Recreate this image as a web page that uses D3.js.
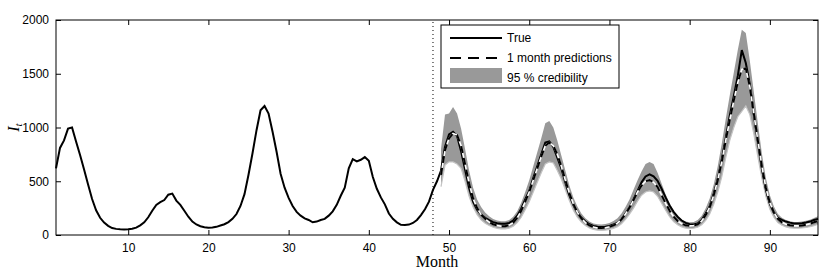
<!DOCTYPE html>
<html>
<head>
<meta charset="utf-8">
<script src="https://cdn.jsdelivr.net/npm/d3@7"></script>
<style>
  body { margin: 0; background: #fff; }
  .tick text { font-family: "Liberation Sans", Arial, sans-serif; font-size: 12px; }
</style>
</head>
<body>
<div class="center"></div>
<script>
// values, half-month steps
const trueVals = [
  620,810,880,990,1000,870,745,610,470,335,
  230,160,115,85,65,57,53,52,54,58,
  68,90,118,165,225,280,305,325,375,385,
  320,280,225,170,125,98,82,72,68,70,
  76,88,100,120,150,195,270,380,560,760,
  975,1160,1200,1130,960,775,570,440,345,270,
  215,180,155,140,118,125,140,150,180,220,
  280,365,440,620,705,685,700,725,690,540,
  430,350,285,200,150,118,95,92,97,112,
  140,185,240,310,420,500,600,820,935,960,
  920,780,610,440,310,235,190,160,138,120,
  110,105,105,112,135,180,245,330,410,530,
  640,750,860,870,820,720,620,490,370,280,
  210,160,125,100,85,76,74,76,85,98,
  112,145,200,255,330,410,490,545,565,545,
  505,430,350,275,215,170,135,112,100,98,
  108,140,200,265,385,520,700,900,1110,1290,
  1480,1720,1600,1400,1120,870,620,420,290,210,
  160,140,125,115,108,108,110,117,125,140,
  150
];
const predVals = [
  560,790,900,945,930,830,660,480,340,250,
  190,150,120,100,88,82,82,92,115,160,
  225,310,400,510,620,730,830,860,830,750,
  640,510,390,290,210,155,115,90,75,66,
  64,68,76,90,110,145,195,255,325,400,
  460,500,510,490,445,370,295,225,170,130,
  105,90,85,88,100,130,185,260,370,510,
  680,880,1070,1250,1420,1540,1550,1380,1130,880,
  640,440,300,210,150,118,100,90,85,85,
  88,95,105,118,130
];
const upperVals = [
  800,1120,1130,1190,1130,990,800,600,440,330,
  260,210,175,150,135,128,128,140,170,220,
  300,400,510,640,770,900,1040,1060,1000,880,
  740,600,460,350,265,200,155,125,108,100,
  98,102,112,130,155,200,260,330,420,510,
  590,660,680,660,580,480,380,295,225,175,
  145,125,118,122,140,180,250,340,470,640,
  850,1080,1300,1510,1720,1910,1880,1620,1330,1040,
  760,530,370,265,195,160,140,128,122,122,
  125,132,142,158,175
];
const lowerVals = [
  450,650,680,680,660,620,500,360,260,190,
  140,110,88,72,62,57,57,64,82,115,
  165,235,310,400,490,580,660,680,670,600,
  520,420,320,230,165,120,88,65,52,45,
  43,46,53,62,78,105,145,195,250,315,
  370,400,410,400,360,295,230,170,125,95,
  76,64,60,63,72,95,135,195,285,400,
  540,720,880,1000,1100,1150,1200,1120,940,730,
  530,360,240,165,115,90,75,67,63,63,
  65,70,77,87,100
];
const trueMonths = d3.range(1, 96.01, 0.5);
const predMonths = d3.range(49, 96.01, 0.5);
const xTicks = [10, 20, 30, 40, 50, 60, 70, 80, 90];
const yTicks = [0, 500, 1000, 1500, 2000];
const splitMonth = 48;
const legendLabels = ["True", "1 month predictions", "95 % credibility"];

const w = 830, h = 275;
const pLeft = 56, pRight = 818, pTop = 20, pBottom = 235;

const svg = d3.select(".center")
    .append("svg")
    .attr("width", w)
    .attr("height", h);

const xScale = d3.scaleLinear().domain([1, 96]).range([pLeft, pRight]);
const yScale = d3.scaleLinear().domain([0, 2000]).range([pBottom, pTop]);

const trueData = trueMonths.map((m, i) => [m, trueVals[i]]);
const predData = predMonths.map((m, i) => [m, predVals[i], lowerVals[i], upperVals[i]]);

const line = d3.line().x(d => xScale(d[0])).y(d => yScale(d[1]));
const band = d3.area()
    .x(d => xScale(d[0]))
    .y0(d => yScale(d[2]))
    .y1(d => yScale(d[3]));

svg.append("path")
    .datum(predData)
    .attr("d", band)
    .attr("fill", "#999");

svg.append("path")
    .datum(predData)
    .attr("d", d3.line().x(d => xScale(d[0])).y(d => yScale(d[2])))
    .attr("fill", "none")
    .attr("stroke", "#c4c4c4")
    .attr("stroke-width", 1.2);

svg.append("path")
    .datum(trueData)
    .attr("d", line)
    .attr("fill", "none")
    .attr("stroke", "#000")
    .attr("stroke-width", 2);

svg.append("path")
    .datum(predData)
    .attr("d", line)
    .attr("fill", "none")
    .attr("stroke", "#fff")
    .attr("stroke-width", 1.6);

svg.append("path")
    .datum(predData)
    .attr("d", line)
    .attr("fill", "none")
    .attr("stroke", "#000")
    .attr("stroke-width", 2)
    .attr("stroke-dasharray", "7,5");

// dotted split line
svg.append("line")
    .attr("x1", xScale(splitMonth)).attr("x2", xScale(splitMonth))
    .attr("y1", pBottom).attr("y2", pTop)
    .attr("stroke", "#000")
    .attr("stroke-width", 1)
    .attr("stroke-dasharray", "1,3");

// axes, matlab box style with inward ticks
const axisStyle = g => {
    g.select(".domain").remove();
    g.selectAll(".tick line").attr("stroke", "#000");
};
svg.append("g")
    .attr("transform", `translate(0,${pBottom})`)
    .call(d3.axisBottom(xScale).tickValues(xTicks).tickSize(-5).tickPadding(8).tickFormat(d3.format("d")))
    .call(axisStyle);
svg.append("g")
    .attr("transform", `translate(0,${pTop})`)
    .call(d3.axisTop(xScale).tickValues(xTicks).tickSize(-5).tickFormat(""))
    .call(axisStyle);
svg.append("g")
    .attr("transform", `translate(${pLeft},0)`)
    .call(d3.axisLeft(yScale).tickValues(yTicks).tickSize(-5).tickPadding(7).tickFormat(d3.format("d")))
    .call(axisStyle);
svg.append("g")
    .attr("transform", `translate(${pRight},0)`)
    .call(d3.axisRight(yScale).tickValues(yTicks).tickSize(-5).tickFormat(""))
    .call(axisStyle);
svg.selectAll(".tick text").attr("fill", "#000");

svg.append("rect")
    .attr("x", pLeft).attr("y", pTop)
    .attr("width", pRight - pLeft).attr("height", pBottom - pTop)
    .attr("fill", "none")
    .attr("stroke", "#000")
    .attr("stroke-width", 1);

// axis titles
svg.append("text")
    .attr("x", (pLeft + pRight) / 2)
    .attr("y", 267)
    .attr("text-anchor", "middle")
    .attr("font-family", "Liberation Serif, serif")
    .attr("font-size", 16)
    .text("Month");

const yl = svg.append("text")
    .attr("transform", `translate(19,${(pTop + pBottom) / 2}) rotate(-90)`)
    .attr("text-anchor", "middle")
    .attr("font-family", "Liberation Serif, serif")
    .attr("font-style", "italic")
    .attr("font-size", 16);
yl.append("tspan").text("I");
yl.append("tspan").attr("font-size", 11).attr("dy", 3).text("t");

// legend
const lg = svg.append("g").attr("transform", "translate(441,25)");
lg.append("rect")
    .attr("width", 178).attr("height", 63)
    .attr("fill", "#fff")
    .attr("stroke", "#000")
    .attr("stroke-width", 1);
lg.append("line").attr("x1", 9).attr("x2", 61).attr("y1", 13).attr("y2", 13)
    .attr("stroke", "#000").attr("stroke-width", 2);
lg.append("line").attr("x1", 9).attr("x2", 61).attr("y1", 33).attr("y2", 33)
    .attr("stroke", "#000").attr("stroke-width", 2).attr("stroke-dasharray", "11,7");
lg.append("rect").attr("x", 9).attr("y", 43).attr("width", 52).attr("height", 15)
    .attr("fill", "#999");
lg.selectAll("text.lab")
    .data(legendLabels)
    .enter()
    .append("text")
    .attr("class", "lab")
    .attr("x", 66)
    .attr("y", (d, i) => 17 + i * 20)
    .attr("font-family", "Liberation Sans, Arial, sans-serif")
    .attr("font-size", 12)
    .text(d => d);
</script>
</body>
</html>
